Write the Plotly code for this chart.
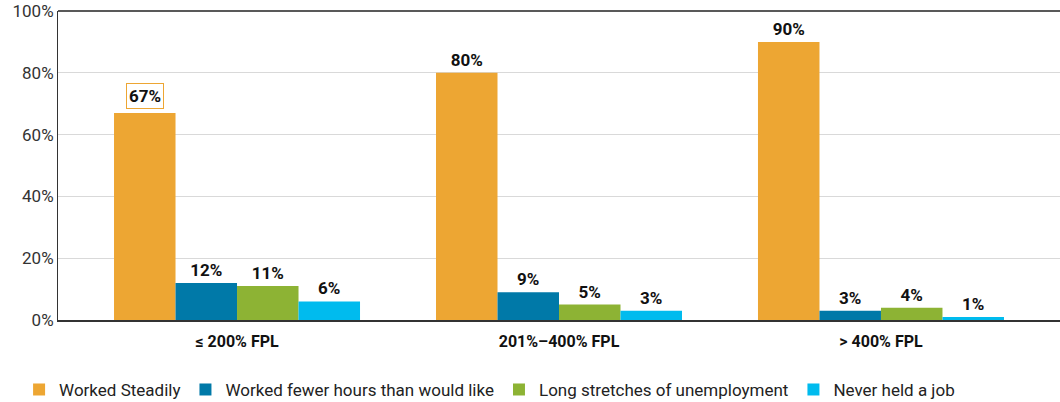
import plotly.graph_objects as go

categories = ["≤ 200% FPL", "201%–400% FPL", "> 400% FPL"]
series_names = ["Worked Steadily", "Worked fewer hours than would like",
                "Long stretches of unemployment", "Never held a job"]
worked_steadily = [67, 80, 90]
fewer_hours = [12, 9, 3]
long_unemployment = [11, 5, 4]
never_held_job = [6, 3, 1]
colors = ["#EDA633", "#0079A8", "#8DB334", "#00BBEE"]
y_ticks = [0, 20, 40, 60, 80, 100]

FONT = "Roboto, Arial, sans-serif"

fig = go.Figure()
all_series = [worked_steadily, fewer_hours, long_unemployment, never_held_job]
for i, (name, vals, col) in enumerate(zip(series_names, all_series, colors)):
    # the first low-income "worked steadily" value gets a boxed annotation instead
    texts = [("" if (i == 0 and j == 0) else f"{v}%") for j, v in enumerate(vals)]
    fig.add_trace(go.Bar(
        x=categories, y=vals, name=name, marker=dict(color=col, line=dict(width=0)),
        text=texts, textposition="outside", cliponaxis=False,
        textfont=dict(family=FONT, size=17, color="#111111", weight="bold"),
    ))

fig.add_annotation(
    x=categories[0], y=worked_steadily[0], text=f"<b>{worked_steadily[0]}%</b>",
    xref="x", yref="y", showarrow=False, yanchor="bottom", xshift=-92, yshift=4,
    font=dict(family=FONT, size=17, color="#111111"),
    bordercolor="#EDA633", borderwidth=1, borderpad=2, bgcolor="white",
)

fig.update_layout(
    width=1060, height=402, barmode="group", bargap=0.236, bargroupgap=0,
    margin=dict(l=58, r=0, t=11, b=82),
    plot_bgcolor="white", paper_bgcolor="white",
    font=dict(family=FONT, color="#333333"),
    showlegend=True,
    legend=dict(orientation="h", xref="container", yref="container",
                x=0.018, y=0.03, xanchor="left", yanchor="middle",
                font=dict(family=FONT, size=17, color="#222222"),
                itemsizing="constant", traceorder="normal"),
)
fig.update_yaxes(range=[0, 100], tickvals=y_ticks, ticktext=[f"{t}%" for t in y_ticks],
                 showgrid=True, gridcolor="#D9D9D9", gridwidth=1,
                 showline=True, linecolor="#333333", linewidth=1, mirror=False,
                 ticks="", ticklen=0, tickfont=dict(family=FONT, size=17, color="#333333"),
                 zeroline=False)
fig.update_xaxes(range=[-0.556, 2.556], showline=True, linecolor="#333333", linewidth=2,
                 ticks="", ticklabelstandoff=6,
                 tickfont=dict(family=FONT, size=16, color="#111111", weight="bold"))
# top border of the plotting area
fig.add_shape(type="line", xref="paper", yref="paper", x0=0, x1=1, y0=1, y1=1,
              line=dict(color="#222222", width=1.5))

fig.write_html("out.html")
